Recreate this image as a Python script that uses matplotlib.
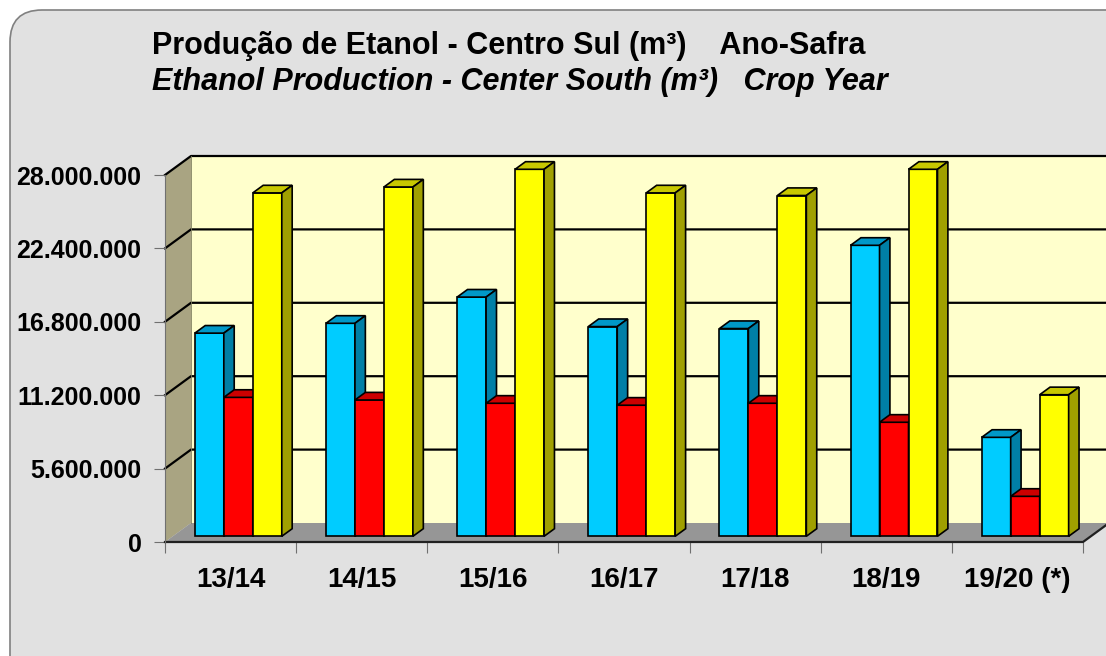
import numpy as np
import matplotlib.pyplot as plt
from matplotlib.patches import Polygon, FancyBboxPatch

plt.rcParams['font.family'] = ['Liberation Sans', 'DejaVu Sans']

# dados (m³)
safras = ["13/14", "14/15", "15/16", "16/17", "17/18", "18/19", "19/20 (*)"]
hidratado = [15.5e6, 16.25e6, 18.25e6, 16.0e6, 15.85e6, 22.2e6, 7.55e6]
anidro = [10.6e6, 10.4e6, 10.15e6, 10.0e6, 10.15e6, 8.7e6, 3.05e6]
total = [26.2e6, 26.65e6, 28.0e6, 26.2e6, 26.0e6, 28.0e6, 10.8e6]
yticks = [0, 5.6e6, 11.2e6, 16.8e6, 22.4e6, 28.0e6]

# cores: frente, topo, lado
cores = [("#00CCFF", "#0098C8", "#007FA6"),
         ("#FF0000", "#CC0000", "#A00000"),
         ("#FFFF00", "#C8C800", "#A0A000")]

W, H = 1106, 656
fig = plt.figure(figsize=(W / 100, H / 100), dpi=100)
fig.patch.set_facecolor("white")

# fundo cinza arredondado
bg = fig.add_axes([0, 0, 1, 1])
bg.set_xlim(0, W)
bg.set_ylim(H, 0)
bg.axis("off")
bg.add_patch(FancyBboxPatch((10, 10), 1200, 800, boxstyle="round,pad=0,rounding_size=32",
                            fc="#E1E1E1", ec="#808080", lw=1.2))

bg.text(509, 46, "Produção de Etanol - Centro Sul (m³)    Ano-Safra", ha="center", va="center",
        fontsize=22, fontweight="bold")
bg.text(520, 82, "Ethanol Production - Center South (m³)   Crop Year", ha="center", va="center",
        fontsize=22, fontweight="bold", style="italic")

# eixo frontal
x0, x1, y0, y1 = 165, 1083, 542, 175
ax = fig.add_axes([x0 / W, (H - y0) / H, (x1 - x0) / W, (y0 - y1) / H])
n = len(safras)
ymax = 28e6
ax.set_xlim(0, n)
ax.set_ylim(0, ymax)
ax.patch.set_visible(False)
for s in ["top", "right", "bottom"]:
    ax.spines[s].set_visible(False)
ax.spines["left"].set_color("#707070")
ax.spines["left"].set_linewidth(0.8)

# profundidade
DX = 26 / (x1 - x0) * n
DY = 19 / (y0 - y1) * ymax

# parede do fundo, parede lateral e piso
ax.add_patch(Polygon([(DX, DY), (n + DX, DY), (n + DX, ymax + DY), (DX, ymax + DY)],
                     closed=True, fc="#FFFFCC", ec="none", clip_on=False, zorder=0))
ax.add_patch(Polygon([(0, 0), (DX, DY), (DX, ymax + DY), (0, ymax)],
                     closed=True, fc="#A9A482", ec="none", clip_on=False, zorder=0))
ax.add_patch(Polygon([(0, 0), (n, 0), (n + DX, DY), (DX, DY)],
                     closed=True, fc="#969696", ec="none", clip_on=False, zorder=1))

for yt in yticks[1:]:
    ax.plot([0, DX, n + DX], [yt, yt + DY, yt + DY], color="black", lw=1.6,
            clip_on=False, zorder=1)
ax.plot([DX, DX], [DY, ymax + DY], color="#808060", lw=0.6, clip_on=False, zorder=1)
ax.plot([0, n, n + DX], [0, 0, DY], color="#202020", lw=1.6, clip_on=False, zorder=2)

# barras 3D
bw = 0.221
off = 0.168
bx, by = 0.3 * DX, 0.3 * DY
ddx, ddy = 0.4 * DX, 0.4 * DY
series = [hidratado, anidro, total]
for i in range(n):
    for j, vals in enumerate(series):
        v = vals[i]
        fr, tp, sd = cores[j]
        xl = i + off + j * bw + bx
        z = 3 + i * 3 + j
        ax.bar(xl, v, width=bw, bottom=by, align="edge", color=fr, edgecolor="black",
               lw=1.2, zorder=z, clip_on=False)
        xr = xl + bw
        ax.add_patch(Polygon([(xl, v + by), (xr, v + by), (xr + ddx, v + by + ddy),
                              (xl + ddx, v + by + ddy)], closed=True, fc=tp, ec="black",
                             lw=1.2, clip_on=False, zorder=z))
        ax.add_patch(Polygon([(xr, by), (xr, v + by), (xr + ddx, v + by + ddy),
                              (xr + ddx, by + ddy)], closed=True, fc=sd, ec="black",
                             lw=1.2, clip_on=False, zorder=z))

# eixos
ax.set_yticks(yticks)
ax.set_yticklabels(["{:,.0f}".format(t).replace(",", ".") for t in yticks],
                   fontsize=18, fontweight="bold")
ax.tick_params(axis="y", direction="out", length=8, color="#707070", pad=9)
ax.set_xticks(np.arange(n + 1))
ax.set_xticklabels([])
ax.tick_params(axis="x", which="major", direction="out", length=8, color="#707070")
ax.set_xticks(np.arange(n) + 0.5, minor=True)
ax.set_xticklabels(safras, minor=True, fontsize=20, fontweight="bold")
ax.tick_params(axis="x", which="minor", length=0, pad=18)

fig.savefig("out.png", dpi=100)
